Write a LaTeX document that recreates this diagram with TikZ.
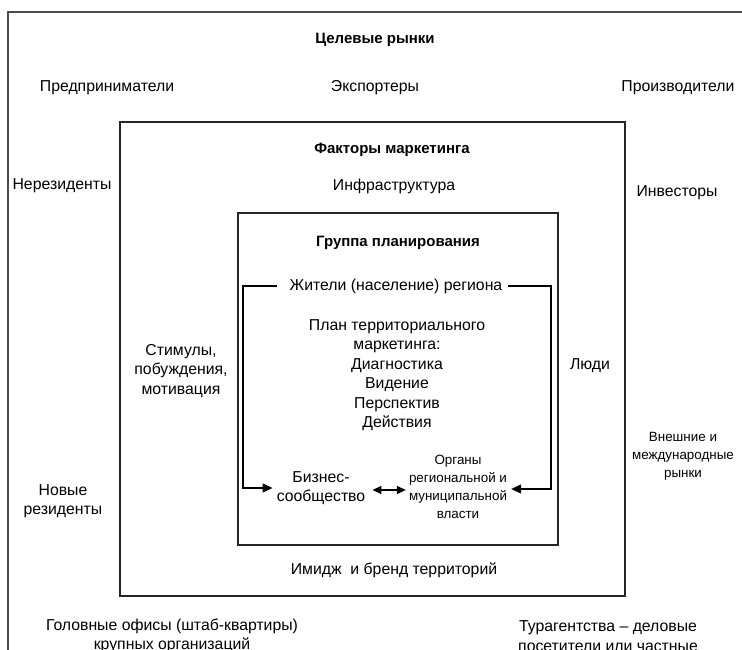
\documentclass[tikz,border=0pt]{standalone}
\usepackage{fontspec}
\setmainfont{Liberation Sans}
\usetikzlibrary{arrows.meta}
\begin{document}
\begin{tikzpicture}[x=1pt,y=-1pt,
 txt/.style={align=center,font=\fontsize{15.8}{19.5}\selectfont,inner sep=0pt},
 small/.style={align=center,font=\fontsize{13.4}{18}\selectfont,inner sep=0pt},
 ttl/.style={align=center,font=\fontsize{15}{19.5}\selectfont\bfseries,inner sep=0pt},
 frame/.style={line width=1.3pt,draw=black!85},
 conn/.style={line width=1.3pt},
 tip/.style={-{Triangle[length=10pt,width=9pt]}},
 dtip/.style={{Triangle[length=9pt,width=8pt]}-{Triangle[length=9pt,width=8pt]}}]
\useasboundingbox (0,0) rectangle (742,650);
\clip (0,0) rectangle (742,650);
\fill[white] (0,0) rectangle (742,650);
\draw[frame,draw=black!70] (8,12) rectangle (760,670);
\draw[frame] (120,122) rectangle (625,596);
\draw[frame] (238,213) rectangle (558,545);

\node[ttl] (t1) at (375,40) {Целевые рынки};
\node[txt] (a1) at (107,88) {Предприниматели};
\node[txt] (a2) at (375,88) {Экспортеры};
\node[txt] (a3) at (678,88) {Производители};
\node[ttl] (t2) at (392,150) {Факторы маркетинга};
\node[txt] (b1) at (62,186) {Нерезиденты};
\node[txt] (b2) at (394,186) {Инфраструктура};
\node[txt] (b3) at (677,193) {Инвесторы};
\node[ttl] (t3) at (398,243) {Группа планирования};
\node[txt] (res) at (396,286) {Жители (население) региона};
\node[txt] (plan) at (397,375) {План территориального\\маркетинга:\\Диагностика\\Видение\\Перспектив\\Действия};
\node[txt] (stim) at (181,371) {Стимулы,\\побуждения,\\мотивация};
\node[txt] (ppl) at (590,366) {Люди};
\node[small] (ext) at (683,456) {Внешние и\\международные\\рынки};
\node[txt] (newr) at (63,501) {Новые\\резиденты};
\node[txt] (biz) at (321,488) {Бизнес-\\сообщество};
\node[small] (org) at (458,487) {Органы\\региональной и\\муниципальной\\власти};
\node[txt] (img) at (394,570) {Имидж\ \ и бренд территорий};
\node[txt] (hq) at (172,636) {Головные офисы (штаб-квартиры)\\крупных организаций};
\node[txt] (tour) at (608,636) {Турагентства – деловые\\посетители или частные};

\coordinate (L1) at (243,286);
\coordinate (L2) at (243,488);
\coordinate (R1) at (551,286);
\coordinate (R2) at (551,489);
\draw[conn,tip] ([xshift=-13pt]res.west) -- (L1) -- (L2) -- ([xshift=-4pt]biz.west |- L2);
\draw[conn,tip] ([xshift=6pt]res.east) -- (R1) -- (R2) -- ([xshift=4pt]org.east |- R2);
\draw[conn,dtip] ([xshift=7pt]biz.east |- 0,490) -- ([xshift=-3pt]org.west |- 0,490);
\end{tikzpicture}
\end{document}
